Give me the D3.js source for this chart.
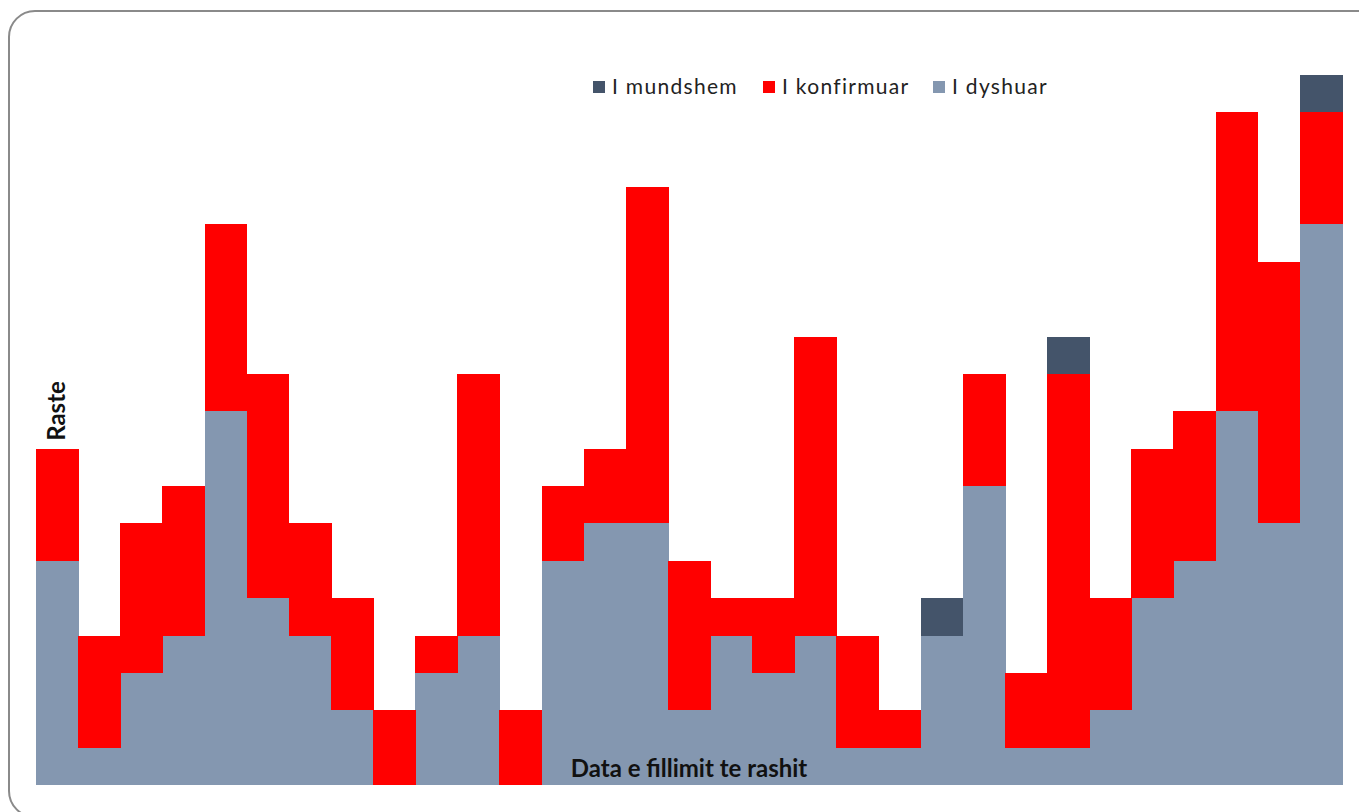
<!DOCTYPE html>
<html>
<head>
<meta charset="utf-8">
<script src="https://cdn.jsdelivr.net/npm/d3@7"></script>
<style>
  body { margin: 0; background: #fff; }
  svg { display: block; }
</style>
</head>
<body>
<svg id="chart" width="1359" height="812"></svg>
<script>
// one bar per day of onset
const days = d3.range(1, 32).map(d => "D" + d);
const dyshuar =    [6, 1, 3, 4, 10, 5, 4, 2, 0, 3, 4, 0, 6, 7, 7, 2, 4, 3, 4, 1, 1, 4, 8, 1, 1, 2, 5, 6, 10, 7, 15];
const konfirmuar = [3, 3, 4, 4, 5, 6, 3, 3, 2, 1, 7, 2, 2, 2, 9, 4, 1, 2, 8, 3, 1, 0, 3, 2, 10, 3, 4, 4, 8, 7, 3];
const mundshem =   [0, 0, 0, 0, 0, 0, 0, 0, 0, 0, 0, 0, 0, 0, 0, 0, 0, 0, 0, 0, 0, 1, 0, 0, 1, 0, 0, 0, 0, 0, 1];

const seriesKeys = ["I dyshuar", "I konfirmuar", "I mundshem"];
const legendKeys = ["I mundshem", "I konfirmuar", "I dyshuar"];
const colors = { "I dyshuar": "#8497B0", "I konfirmuar": "#FF0000", "I mundshem": "#44546A" };

const rows = days.map((d, i) => ({
    day: d,
    "I dyshuar": dyshuar[i],
    "I konfirmuar": konfirmuar[i],
    "I mundshem": mundshem[i]
}));

const svg = d3.select("#chart");

// rounded frame, right and bottom edges run off the picture
svg.append("rect")
    .attr("x", 9).attr("y", 11)
    .attr("width", 1390).attr("height", 806)
    .attr("rx", 26).attr("ry", 26)
    .attr("fill", "#fff")
    .attr("stroke", "#8a8a8a")
    .attr("stroke-width", 2);

const x = d3.scaleBand()
    .domain(days)
    .range([36, 1342])
    .padding(0);

const y = d3.scaleLinear()
    .domain([0, 19])
    .range([785, 75]);

const stacked = d3.stack().keys(seriesKeys)(rows);

svg.append("g")
    .attr("shape-rendering", "crispEdges")
    .selectAll("g")
    .data(stacked)
    .join("g")
    .attr("fill", d => colors[d.key])
    .selectAll("rect")
    .data(d => d.filter(p => p[1] > p[0]))
    .join("rect")
    .attr("x", d => x(d.data.day))
    .attr("y", d => y(d[1]))
    .attr("width", x.bandwidth() + 0.6)
    .attr("height", d => y(d[0]) - y(d[1]));

// legend
const legendX = [593, 763, 933];
const legend = svg.append("g")
    .selectAll("g")
    .data(legendKeys)
    .join("g")
    .attr("transform", (d, i) => `translate(${legendX[i]}, 81)`);

legend.append("rect")
    .attr("width", 12).attr("height", 12)
    .attr("fill", d => colors[d]);

legend.append("text")
    .attr("x", 19).attr("y", 13)
    .attr("font-family", "Lato, 'Open Sans', sans-serif")
    .attr("font-size", 21)
    .attr("letter-spacing", 1.3)
    .attr("fill", "#222")
    .text(d => d);

// axis titles
svg.append("text")
    .attr("transform", "translate(65, 411) rotate(-90)")
    .attr("text-anchor", "middle")
    .attr("font-family", "Lato, 'Open Sans', sans-serif")
    .attr("font-weight", "bold")
    .attr("font-size", 24)
    .attr("fill", "#111")
    .text("Raste");

svg.append("text")
    .attr("x", 689).attr("y", 777)
    .attr("text-anchor", "middle")
    .attr("font-family", "Lato, 'Open Sans', sans-serif")
    .attr("font-weight", "bold")
    .attr("font-size", 24)
    .attr("fill", "#111")
    .text("Data e fillimit te rashit");
</script>
</body>
</html>
